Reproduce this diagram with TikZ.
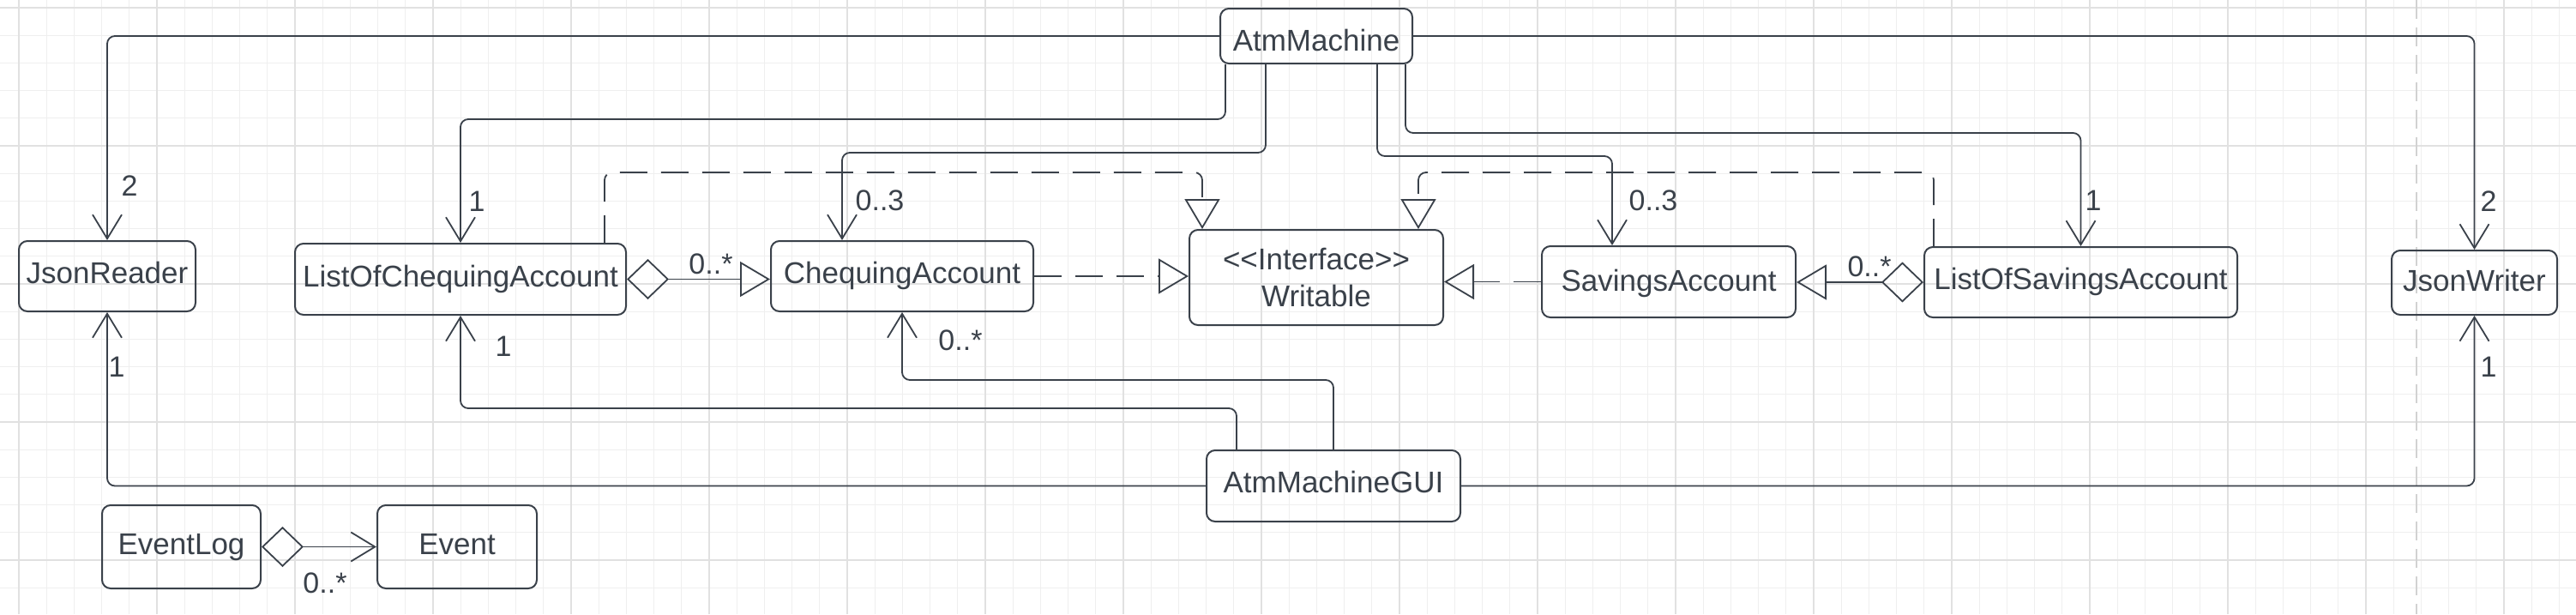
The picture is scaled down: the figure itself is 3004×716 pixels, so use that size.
\documentclass[tikz,border=0pt]{standalone}
\usepackage{fontspec}
\setmainfont{Liberation Sans}
\usetikzlibrary{arrows.meta}
\definecolor{ink}{HTML}{3A414A}
\definecolor{gridminor}{HTML}{EFEFEF}
\definecolor{gridmajor}{HTML}{E1E1E1}
\definecolor{pageline}{HTML}{D2D2D2}
\begin{document}
\begin{tikzpicture}[x=1pt,y=-1pt,
  box/.style={draw=ink, line width=2pt, rounded corners=10pt, inner sep=0pt, text=ink,
    font=\fontsize{35}{43.5}\selectfont, text height=25pt, text depth=8pt},
  lbl/.style={inner sep=0pt, text=ink, font=\fontsize{34}{40}\selectfont, text height=24.3pt, text depth=0pt},
  conn/.style={draw=ink, line width=1.8pt, rounded corners=9pt},
  assoc/.style={conn, -{Straight Barb[length=28pt,width=34pt]}},
  agg/.style={conn, {Diamond[open,length=49pt,width=47pt]}-{Triangle[open,length=35pt,width=41pt]}},
  aggv/.style={conn, {Diamond[open,length=49pt,width=47pt]}-{Straight Barb[length=28pt,width=34pt]}},
  real/.style={conn, dash pattern=on 32pt off 16pt, -{Triangle[open,length=35pt,width=41pt]}}
]
\useasboundingbox (0,0) rectangle (3004,716);
\fill[white] (0,0) rectangle (3004,716);
% grid
\foreach \i in {0,...,92} \draw[gridminor, line width=1pt] ({22+32.2*\i},0) -- ({22+32.2*\i},716);
\foreach \j in {0,...,21} \draw[gridminor, line width=1pt] (0,{9+32.2*\j}) -- (3004,{9+32.2*\j});
\foreach \i in {0,...,18} \draw[gridmajor, line width=1.6pt] ({22+161*\i},0) -- ({22+161*\i},716);
\foreach \j in {0,...,4} \draw[gridmajor, line width=1.6pt] (0,{9+161*\j}) -- (3004,{9+161*\j});
\draw[pageline, line width=2pt, dash pattern=on 22pt off 10pt] (2818,0) -- (2818,716);

% classes
\node[box, minimum width=224pt, minimum height=64pt, text height=34.4pt, text depth=0pt] (atm) at (1535,42) {AtmMachine};
\node[box, minimum width=206pt, minimum height=82pt, text depth=9pt] (jr) at (125,322) {JsonReader};
\node[box, minimum width=386pt, minimum height=83pt] (lca) at (537,325.5) {ListOfChequingAccount};
\node[box, minimum width=306pt, minimum height=82pt, text depth=9pt] (ca) at (1052,322) {ChequingAccount};
\node[draw=ink, line width=2pt, rounded corners=10pt, inner sep=0pt, text=ink, align=center,
  font=\fontsize{35}{43.5}\selectfont, minimum width=296pt, minimum height=111pt] (wr) at (1535,323.5) {<{}<Interface>{}>\\Writable};
\node[box, minimum width=296pt, minimum height=83pt, text depth=3pt] (sa) at (1946,328.5) {SavingsAccount};
\node[box, minimum width=365pt, minimum height=82pt, text depth=9pt] (lsa) at (2426.5,329) {ListOfSavingsAccount};
\node[box, minimum width=193pt, minimum height=75pt, text depth=5pt] (jw) at (2885.5,329.5) {JsonWriter};
\node[box, minimum width=296pt, minimum height=83pt, text depth=9.5pt] (gui) at (1555,566.5) {AtmMachineGUI};
\node[box, minimum width=185pt, minimum height=97pt] (el) at (211.5,637.5) {EventLog};
\node[box, minimum width=186pt, minimum height=97pt] (ev) at (533,637.5) {Event};

% associations from AtmMachine
\draw[assoc] (atm.west) -| (jr.north);
\draw[assoc] (atm.east) -| (jw.north);
\draw[assoc] ([xshift=7pt]atm.south west) -- ++(0,64) -| (lca.north);
\draw[assoc] ([xshift=54pt]atm.south west) -- ++(0,103) -| ([xshift=84pt]ca.north west);
\draw[assoc] ([xshift=184pt]atm.south west) -- ++(0,107) -| ([xshift=83pt]sa.north west);
\draw[assoc] ([xshift=217pt]atm.south west) -- ++(0,80) -| (lsa.north);

% aggregations
\draw[agg] (lca.east) -- (lca.east -| ca.west);
\draw[agg] (lsa.west) -- (lsa.west -| sa.east);
\draw[aggv] (el.east) -- (ev.west);

% realizations
\draw[real] (ca.east) -- (ca.east -| wr.west);
\draw[real] (sa.west) -- (sa.west -| wr.east);
\draw[real] ([xshift=362pt]lca.north west) -- ++(0,-82) -| ([xshift=16pt]wr.north west);
\draw[real] ([xshift=12pt]lsa.north west) -- ++(0,-86) -| ([xshift=-30pt]wr.north east);

% associations from AtmMachineGUI
\draw[assoc] (gui.west) -| (jr.south);
\draw[assoc] (gui.east) -| (jw.south);
\draw[assoc] ([xshift=36pt]gui.north west) -- ++(0,-48) -| (lca.south);
\draw[assoc] (gui.north) -- ++(0,-81) -| (ca.south);

% multiplicities
\node[lbl] (m1) at (151,216) {2};
\node[lbl] (m2) at (2902,234) {2};
\node[lbl] (m3) at (556,234) {1};
\node[lbl] (m4) at (1026,233) {0..3};
\node[lbl] (m5) at (1928,233) {0..3};
\node[lbl] (m6) at (2441,233) {1};
\node[lbl] (m7) at (829,307) {0..*};
\node[lbl] (m8) at (2180,310) {0..*};
\node[lbl] (m9) at (136,427) {1};
\node[lbl] (m10) at (2902,427) {1};
\node[lbl] (m11) at (587,403) {1};
\node[lbl] (m12) at (1120,396) {0..*};
\node[lbl] (m13) at (379,679) {0..*};
\end{tikzpicture}
\end{document}
